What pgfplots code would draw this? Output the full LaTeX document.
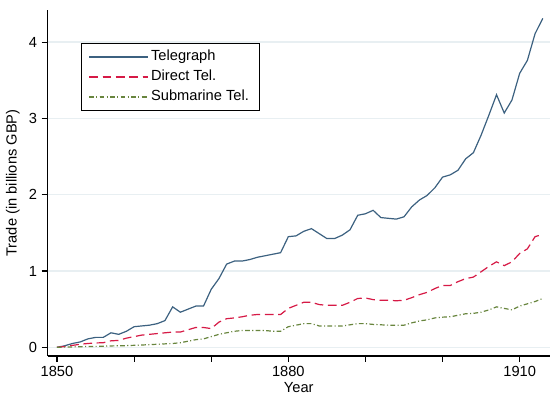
\documentclass[border=0pt]{standalone}
\usepackage{pgfplots}
\pgfplotsset{compat=1.18}
\usepackage{pgfplotstable}
\usepackage{fontspec}
\setmainfont{Liberation Sans}

\definecolor{telblue}{RGB}{60,97,128}
\definecolor{dirred}{RGB}{214,26,70}
\definecolor{subgreen}{RGB}{104,133,62}
\definecolor{gridc}{RGB}{232,239,242}

% trade, billions GBP
\pgfplotstableread{
year tel   dir   sub
1850 0.00  0.000 0.000
1851 0.02  0.010 0.003
1852 0.05  0.025 0.005
1853 0.07  0.040 0.008
1854 0.11  0.050 0.010
1855 0.13  0.057 0.012
1856 0.13  0.060 0.015
1857 0.19  0.085 0.018
1858 0.17  0.090 0.020
1859 0.21  0.120 0.022
1860 0.27  0.140 0.026
1861 0.28  0.160 0.030
1862 0.29  0.170 0.035
1863 0.31  0.180 0.040
1864 0.35  0.190 0.045
1865 0.53  0.200 0.050
1866 0.46  0.200 0.060
1867 0.50  0.230 0.080
1868 0.54  0.260 0.100
1869 0.54  0.260 0.110
1870 0.76  0.245 0.140
1871 0.90  0.330 0.170
1872 1.09  0.375 0.190
1873 1.13  0.385 0.210
1874 1.13  0.400 0.220
1875 1.15  0.420 0.220
1876 1.18  0.430 0.220
1877 1.20  0.430 0.220
1878 1.22  0.430 0.210
1879 1.24  0.430 0.210
1880 1.45  0.510 0.270
1881 1.46  0.550 0.290
1882 1.52  0.590 0.310
1883 1.555 0.590 0.310
1884 1.49  0.560 0.280
1885 1.425 0.550 0.280
1886 1.425 0.550 0.280
1887 1.47  0.550 0.280
1888 1.54  0.590 0.295
1889 1.73  0.640 0.310
1890 1.75  0.646 0.310
1891 1.795 0.625 0.300
1892 1.70  0.616 0.295
1893 1.69  0.616 0.290
1894 1.68  0.610 0.290
1895 1.71  0.616 0.290
1896 1.84  0.650 0.320
1897 1.93  0.690 0.345
1898 1.99  0.720 0.360
1899 2.09  0.770 0.385
1900 2.23  0.810 0.395
1901 2.26  0.810 0.400
1902 2.32  0.860 0.420
1903 2.47  0.900 0.440
1904 2.55  0.920 0.445
1905 2.78  0.990 0.460
1906 3.04  1.060 0.490
1907 3.31  1.120 0.530
1908 3.07  1.070 0.510
1909 3.24  1.120 0.490
1910 3.59  1.230 0.540
1911 3.76  1.290 0.570
1912 4.11  1.450 0.600
1913 4.31  1.480 0.640
}\trade

\begin{document}
\begin{tikzpicture}
\useasboundingbox (-35.8pt,-28.7pt) rectangle (376.7pt,267pt);
\begin{axis}[
  scale only axis, width=376.5pt, height=259.5pt,
  xmin=1848.8, xmax=1913.9, ymin=-0.114, ymax=4.42,
  axis x line*=bottom, axis y line*=left,
  axis line style={line width=0.8pt, -},
  xtick={1850,1880,1910}, minor xtick={1860,1870,1890,1900},
  ytick={0,1,2,3,4},
  tick align=outside, major tick length=4.5pt, minor tick length=4.2pt,
  every tick/.style={black, line width=0.8pt},
  ymajorgrids, grid style={gridc, line width=1.1pt},
  /pgf/number format/1000 sep={},
  /pgf/number format/assume math mode=true,
  tick label style={font=\fontsize{11}{13.2}\selectfont},
  xlabel={Year}, ylabel={Trade (in billions GBP)},
  label style={font=\fontsize{11}{13.2}\selectfont},
  xlabel style={yshift=3pt},
  legend style={at={(0.066,0.905)}, anchor=north west, draw=black, line width=0.6pt,
    font=\fontsize{11}{13.2}\selectfont, inner xsep=5.5pt, inner ysep=3pt,
    nodes={text height=8pt, text depth=2.5pt, inner sep=2pt}, row sep=0.5pt},
  legend cell align=left,
  legend image code/.code={\draw[#1, line width=0.9pt] (0pt,0pt) -- (41pt,0pt);
    \path (0pt,0pt) -- (44pt,0pt);},
]
  \addplot[telblue, line width=0.9pt] table[x=year, y=tel] {\trade};
  \addlegendentry{Telegraph}
  \addplot[dirred, line width=0.9pt, dash pattern=on 6.5pt off 3.5pt] table[x=year, y=dir] {\trade};
  \addlegendentry{Direct Tel.}
  \addplot[subgreen, line width=0.9pt, dash pattern=on 3.5pt off 1.8pt on 0.8pt off 1.8pt] table[x=year, y=sub] {\trade};
  \addlegendentry{Submarine Tel.}
\end{axis}
\end{tikzpicture}
\end{document}
